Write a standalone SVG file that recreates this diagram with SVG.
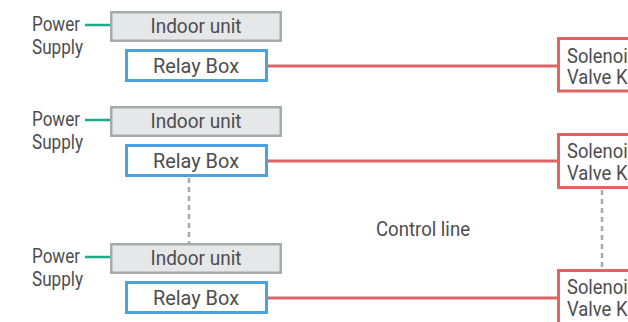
<svg xmlns="http://www.w3.org/2000/svg" width="628" height="322" viewBox="0 0 628 322">
  <style>
    text { font-family: Roboto, "Liberation Sans", sans-serif; font-size: 20px; fill: #4d4d4f; }
    .mid { text-anchor: middle; }
    .indoor { fill: #e6e7e8; stroke: #a7a9ac; stroke-width: 2.5; }
    .relay { fill: #ffffff; stroke: #4aa3df; stroke-width: 3; }
    .valve { fill: #ffffff; stroke: #df6464; stroke-width: 3; }
    .power { stroke: #1aaa88; stroke-width: 2.5; fill: none; }
    .control { stroke: #df6464; stroke-width: 3; fill: none; }
    .link { stroke: #a7a9ac; stroke-width: 2.5; stroke-dasharray: 5 4; fill: none; }
  </style>
  <rect width="628" height="322" fill="#ffffff"/>

  <g id="connectors">
    <line class="power" x1="85" y1="25" x2="110" y2="25"/>
    <line class="power" x1="85" y1="120" x2="110" y2="120"/>
    <line class="power" x1="85" y1="257" x2="110" y2="257"/>
    <line class="control" x1="268" y1="66" x2="558" y2="66"/>
    <line class="control" x1="268" y1="161" x2="558" y2="161"/>
    <line class="control" x1="268" y1="298" x2="558" y2="298"/>
    <line class="link" x1="189" y1="178" x2="189" y2="243"/>
    <line class="link" x1="602" y1="190" x2="602" y2="269"/>
  </g>

  <g id="power-label-1">
    <text x="32" y="30.5" textLength="48" lengthAdjust="spacingAndGlyphs">Power</text>
    <text x="32" y="53.5" textLength="51" lengthAdjust="spacingAndGlyphs">Supply</text>
  </g>
  <g id="power-label-2">
    <text x="32" y="125.5" textLength="48" lengthAdjust="spacingAndGlyphs">Power</text>
    <text x="32" y="148.5" textLength="51" lengthAdjust="spacingAndGlyphs">Supply</text>
  </g>
  <g id="power-label-3">
    <text x="32" y="262.5" textLength="48" lengthAdjust="spacingAndGlyphs">Power</text>
    <text x="32" y="285.5" textLength="51" lengthAdjust="spacingAndGlyphs">Supply</text>
  </g>

  <g id="indoor-unit-1">
    <rect class="indoor" x="111.25" y="12.25" width="169.5" height="28.5"/>
    <text class="mid" x="196" y="33" textLength="91" lengthAdjust="spacingAndGlyphs">Indoor unit</text>
  </g>
  <g id="relay-box-1">
    <rect class="relay" x="126.5" y="50.5" width="140" height="30"/>
    <text class="mid" x="196" y="72.5" textLength="86" lengthAdjust="spacingAndGlyphs">Relay Box</text>
  </g>

  <g id="indoor-unit-2">
    <rect class="indoor" x="111.25" y="107.25" width="169.5" height="28.5"/>
    <text class="mid" x="196" y="128" textLength="91" lengthAdjust="spacingAndGlyphs">Indoor unit</text>
  </g>
  <g id="relay-box-2">
    <rect class="relay" x="126.5" y="145.5" width="140" height="30"/>
    <text class="mid" x="196" y="167.5" textLength="86" lengthAdjust="spacingAndGlyphs">Relay Box</text>
  </g>

  <g id="indoor-unit-3">
    <rect class="indoor" x="111.25" y="244.25" width="169.5" height="28.5"/>
    <text class="mid" x="196" y="265" textLength="91" lengthAdjust="spacingAndGlyphs">Indoor unit</text>
  </g>
  <g id="relay-box-3">
    <rect class="relay" x="126.5" y="282.5" width="140" height="30"/>
    <text class="mid" x="196" y="304.5" textLength="86" lengthAdjust="spacingAndGlyphs">Relay Box</text>
  </g>

  <g id="solenoid-valve-kit-1">
    <rect class="valve" x="558.5" y="38.5" width="100" height="52.5"/>
    <text x="567" y="62.5" textLength="71" lengthAdjust="spacingAndGlyphs">Solenoid</text>
    <text x="567" y="84" textLength="71" lengthAdjust="spacingAndGlyphs">Valve Kit</text>
  </g>
  <g id="solenoid-valve-kit-2">
    <rect class="valve" x="558.5" y="134.5" width="100" height="53"/>
    <text x="567" y="158" textLength="71" lengthAdjust="spacingAndGlyphs">Solenoid</text>
    <text x="567" y="179.5" textLength="71" lengthAdjust="spacingAndGlyphs">Valve Kit</text>
  </g>
  <g id="solenoid-valve-kit-3">
    <rect class="valve" x="558.5" y="270.5" width="100" height="53"/>
    <text x="567" y="294" textLength="71" lengthAdjust="spacingAndGlyphs">Solenoid</text>
    <text x="567" y="315.5" textLength="71" lengthAdjust="spacingAndGlyphs">Valve Kit</text>
  </g>

  <g id="control-line-label">
    <text x="376" y="236" textLength="94" lengthAdjust="spacingAndGlyphs">Control line</text>
  </g>
</svg>
